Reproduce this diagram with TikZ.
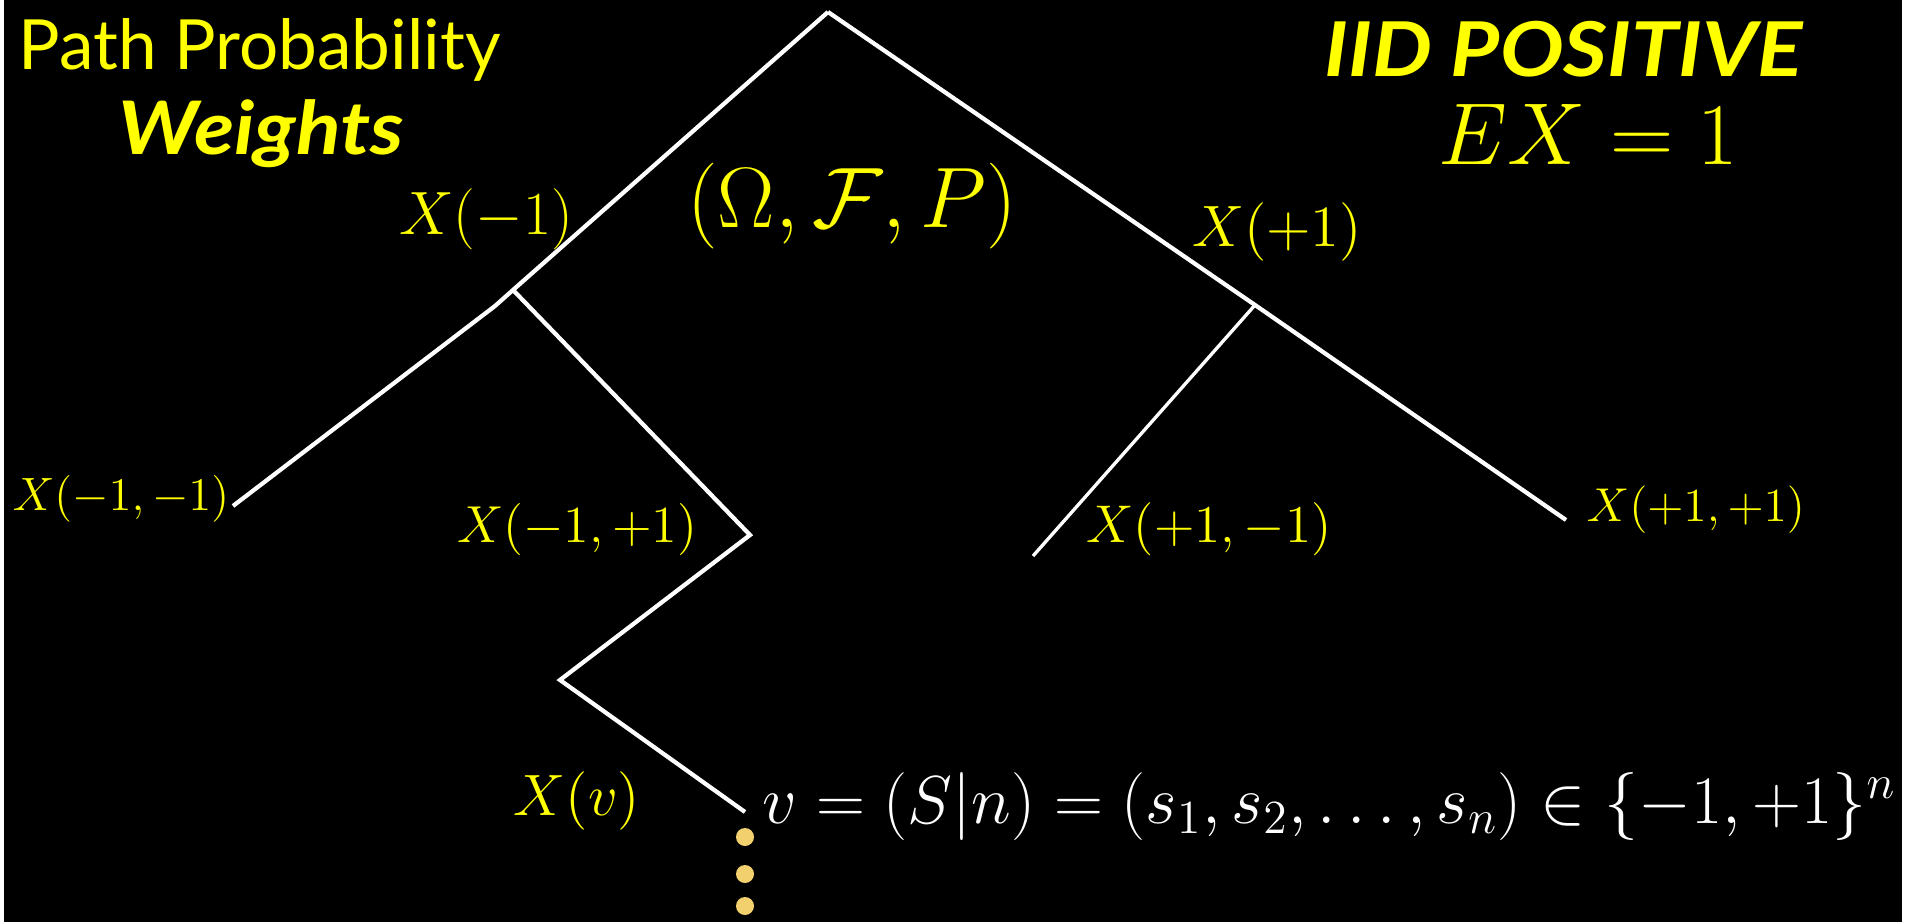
\documentclass[tikz,border=0pt]{standalone}
\usepackage{fix-cm}
\usepackage[no-math]{fontspec}
\usepackage{amsmath,amssymb}
\newfontfamily\slidefont{Lato}
\newfontfamily\slidebold[FakeStretch=1.12]{Lato}
\usetikzlibrary{positioning,calc}
\definecolor{slYellow}{RGB}{255,255,0}
\definecolor{slGold}  {RGB}{242,208,110}
\definecolor{slInk}   {RGB}{  0,  0,  0}

\begin{document}
\begin{tikzpicture}[
  x=0.01cm,y=-0.01cm,
  branch/.style={draw=white,line width=1.2pt},
  thinbranch/.style={draw=white,line width=0.95pt},
  mlbl/.style={text=slYellow,inner sep=0pt,font=\fontsize{#1}{#1}\selectfont},
  title/.style={text=slYellow,inner sep=0pt,anchor=base west,
                font=\slidefont\fontsize{#1}{#1}\selectfont},
  boldtitle/.style={text=slYellow,inner sep=0pt,anchor=base west,
                font=\slidebold\bfseries\itshape\fontsize{#1}{#1}\selectfont},
  ptdot/.style={circle,fill=slGold,inner sep=0pt,minimum size=0.18cm}
]
% Geometry: pixel grid, y pointing down, 1916 x 922.
\fill[white] (0,0) rectangle (1916,922);
\fill[slInk] (4,0) rectangle (1902,922);
\useasboundingbox (0,0) rectangle (1916,922);

% --- tree vertices
\coordinate (root) at (828,12);
\coordinate (nL)   at (513,290);
\coordinate (nLk)  at (495,306);
\coordinate (nLL)  at (233,506);
\coordinate (nLR)  at (750,535);
\coordinate (nLRL) at (560,680);
\coordinate (nV)   at (745,812);
\coordinate (nR)   at (1255,305);
\coordinate (nRL)  at (1033,556);
\coordinate (nRR)  at (1566,520);

% --- branches
\draw[branch] (root) -- (nL) -- (nLk) -- (nLL);
\draw[branch] (nL) -- (nLR) -- (nLRL) -- (nV);
\draw[branch] (root) -- (nR) -- (nRR);
\draw[thinbranch] (nR) -- (nRL);

% --- dots below v
\node[ptdot] (d1) at (745,837) {};
\node[ptdot] (d2) at (745,874) {};
\node[ptdot] (d3) at (745,906) {};

% --- titles
\node[title=19.7] (tPath) at (18,70) {Path Probability};
\node[boldtitle=21] (tWeights) at (118,155) {Weights};
\node[boldtitle=21.5] (tIID) at (1324,77) {IID POSITIVE};
\node[mlbl=25,anchor=base west] (tEX) at (1438,165) {$EX=1$};

% --- labels
\node[mlbl=24.4] (lOmega) at (852,206) {$(\Omega,\mathcal{F},P)$};
\node[mlbl=17.4] (lA)     at (486,219) {$X(-1)$};
\node[mlbl=16.6] (lB)     at (1277,232) {$X(+1)$};
\node[mlbl=13.3] (lAA)    at (121,499) {$X(-1,-1)$};
\node[mlbl=14.8] (lAB)    at (577,529) {$X(-1,+1)$};
\node[mlbl=15.1] (lBA)    at (1209,529) {$X(+1,-1)$};
\node[mlbl=13.5] (lBB)    at (1696,510) {$X(+1,+1)$};
\node[mlbl=16.6] (lV)     at (577,801) {$X(v)$};
\node[text=white,inner sep=0pt,anchor=base west,
      font=\fontsize{19.3}{19.3}\selectfont] (lPath) at (762,823)
     {$v=(S|n)=(s_1,s_2,\dots,s_n)\in\{-1,+1\}^n$};
\end{tikzpicture}
\end{document}
